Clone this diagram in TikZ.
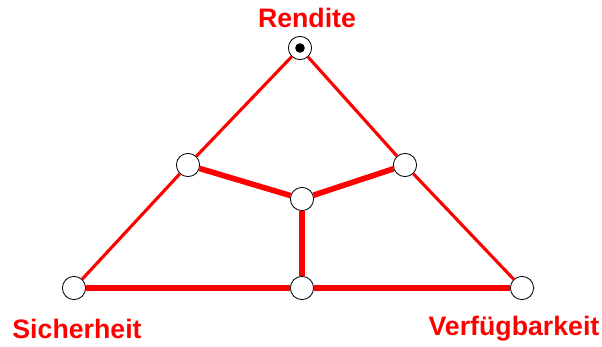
\documentclass[tikz,border=0pt]{standalone}
\usepackage{fontspec}
\setmainfont{Liberation Sans}
\begin{document}
\begin{tikzpicture}[x = 0.25mm, y = -0.25mm,
                knot/.style = {circle, draw = black, fill = white, line width = 0.6pt, minimum size = 5.8mm, inner sep = 0pt},
                thin edge/.style = {red, line width = 2.2pt},
                thick edge/.style = {red, line width = 4pt},
                goal/.style = {red, font = \bfseries\fontsize{19}{21}\selectfont}]
                \useasboundingbox (0, 0) rectangle (602, 347);
                \node[knot] (top) at (300, 48) {};
                \fill (top) circle (1.2mm);
                \node[knot] (left) at (188, 165) {};
                \node[knot] (right) at (405, 165) {};
                \node[knot] (mid) at (302, 199) {};
                \node[knot] (sich) at (74, 288) {};
                \node[knot] (base) at (302, 288) {};
                \node[knot] (verf) at (522, 288) {};
                \draw[thin edge] (top) -- (left);
                \draw[thin edge] (left) -- (sich);
                \draw[thin edge] (top) -- (right);
                \draw[thin edge] (right) -- (verf);
                \draw[thick edge] (sich) -- (base);
                \draw[thick edge] (base) -- (verf);
                \draw[thick edge] (left) -- (mid);
                \draw[thick edge] (right) -- (mid);
                \draw[thick edge] (mid) -- (base);
                \node[goal] (rendite) at (307, 18) {Rendite};
                \node[goal] (sicherheit) at (77, 329) {Sicherheit};
                \node[goal] (verfuegbarkeit) at (514, 329) {Verfügbarkeit};
            \end{tikzpicture}
\end{document}
